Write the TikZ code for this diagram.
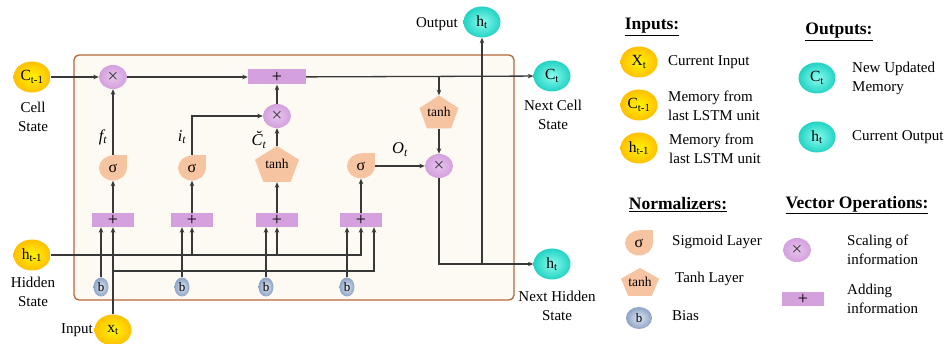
\documentclass[tikz,border=0pt]{standalone}
\usepackage{fontspec}
\setmainfont{Liberation Serif}
\usetikzlibrary{arrows.meta,shapes.geometric,calc}
\definecolor{boxfill}{HTML}{FDFAF3}
\definecolor{boxline}{HTML}{B4683C}
\definecolor{lin}{HTML}{383838}
\definecolor{purp}{HTML}{D4A0DE}
\definecolor{purpin}{HTML}{E6C4EC}
\definecolor{peach}{HTML}{F7C4A2}
\definecolor{bout}{HTML}{8DA3C5}
\definecolor{bin}{HTML}{DDE6F2}
\definecolor{yin}{HTML}{FFF400}
\definecolor{yout}{HTML}{FFC000}
\definecolor{cin}{HTML}{8AFCF0}
\definecolor{cout}{HTML}{22D3C3}
\newcommand\sbt[1]{\textsubscript{#1}}
\begin{document}
\begin{tikzpicture}[x=1pt,y=-1pt,
  arr/.style={draw=lin, line width=1.3pt, -{Stealth[length=5.5pt,width=4.5pt]}},
  yel/.style={ellipse, minimum width=37pt, minimum height=31pt, inner sep=0pt, shading=radial, inner color=yin, outer color=yout, font=\fontsize{15.5}{15.5}\selectfont},
  cya/.style={ellipse, minimum width=37pt, minimum height=31pt, inner sep=0pt, shading=radial, inner color=cin, outer color=cout, font=\fontsize{15.5}{15.5}\selectfont},
  mul/.style={ellipse, minimum width=28pt, minimum height=24pt, inner sep=0pt, shading=radial, inner color=purpin, outer color=purp, text=lin, font=\fontsize{19}{19}\selectfont},
  addbox/.style={rectangle, fill=purp, minimum width=42pt, minimum height=14pt, inner sep=0pt, text=black, font=\fontsize{18}{18}\selectfont},
  sigm/.style={rectangle, minimum width=28pt, minimum height=25pt, inner sep=0pt, font=\fontsize{16}{16}\selectfont,
    path picture={\fill[peach] (path picture bounding box.center) ellipse [x radius=14pt, y radius=12.5pt];
      \fill[peach] (path picture bounding box.center) rectangle (path picture bounding box.north east);}},
  tanhs/.style={rectangle, inner sep=0pt, font=\fontsize{13.5}{13.5}\selectfont,
    path picture={\def\pb{path picture bounding box}
      \fill[peach] (\pb.north) -- ($(\pb.south east)!0.618!(\pb.north east)$) -- ($(\pb.south west)!0.809!(\pb.south east)$)
        -- ($(\pb.south west)!0.191!(\pb.south east)$) -- ($(\pb.south west)!0.618!(\pb.north west)$) -- cycle;}},
  bias/.style={ellipse, minimum width=15pt, minimum height=19pt, inner sep=0pt, shading=radial, inner color=bin, outer color=bout, font=\fontsize{13}{13}\selectfont},
  lbl/.style={font=\fontsize{15}{19}\selectfont, align=center, inner sep=0pt},
  leg/.style={font=\fontsize{15}{19}\selectfont, align=left, anchor=west, inner sep=0pt},
  head/.style={font=\bfseries\fontsize{17.5}{19}\selectfont, inner sep=0pt},
  gl/.style={font=\itshape\fontsize{16.5}{16.5}\selectfont, inner sep=0pt}
]
\useasboundingbox (0,0) rectangle (950,344);
\draw[draw=boxline, fill=boxfill, line width=1.3pt, rounded corners=5pt] (74,55) rectangle (514,300);

% outer nodes
\node[yel] (cprev) at (32,77) {C\sbt{t-1}};
\node[lbl] (cprevl) at (33,117) {Cell\\State};
\node[yel] (hprev) at (32,255) {h\sbt{t-1}};
\node[lbl] (hprevl) at (33,292) {Hidden\\State};
\node[yel] (xin) at (113,330) {x\sbt{t}};
\node[lbl, anchor=east] (xinl) at (93,330) {Input};
\node[cya] (ct) at (552,76) {C\sbt{t}};
\node[lbl] (ctl) at (553,115) {Next Cell\\State};
\node[cya] (hnext) at (552,264) {h\sbt{t}};
\node[lbl] (hnextl) at (557,306) {Next Hidden\\State};
\node[cya] (hout) at (482,22) {h\sbt{t}};
\node[lbl, anchor=east] (houtl) at (458,24) {Output};

% inner nodes
\node[mul] (m1) at (113,77) {×};
\node[addbox, minimum width=58pt, minimum height=15pt] (ptop) at (277,77) {+};
\node[mul] (m2) at (277,116) {×};
\node[tanhs, minimum width=39pt, minimum height=33pt] (th2) at (439,112) {tanh};
\node[mul] (m3) at (439,166) {×};
\node[sigm] (s1) at (113,168) {σ};
\node[sigm] (s2) at (192,168) {σ};
\node[tanhs, minimum width=44pt, minimum height=36pt] (th1) at (277,164) {tanh};
\node[sigm] (s4) at (361,166) {σ};
\node[addbox] (a1) at (113,220) {+};
\node[addbox] (a2) at (192,220) {+};
\node[addbox] (a3) at (277,220) {+};
\node[addbox] (a4) at (361,220) {+};
\node[bias] (b1) at (101,287) {b};
\node[bias] (b2) at (182,287) {b};
\node[bias] (b3) at (266,287) {b};
\node[bias] (b4) at (347,287) {b};

\node[gl] (lf) at (103,137) {f\sbt{t}};
\node[gl] (li) at (182,137) {i\sbt{t}};
\node[gl] (lc) at (259,140) {\u{C}\sbt{t}};

\coordinate (csplit) at (439,77);
\coordinate (hsplit) at (482,264);
\coordinate (xsplit) at (113,271);

% connectors
\draw[arr] (cprev) -- (m1);
\draw[arr] (m1) -- (ptop);
\draw[arr] (ptop) -- (ct);
\draw[arr] (csplit) -- (th2);
\draw[arr] (th2) -- (m3);
\draw[arr] (s4) -- node[gl, above=9pt] (lo) {O\sbt{t}} (m3);
\draw[arr] (m3) |- (hnext);
\draw[arr] (hsplit) -- (hout);
\draw[arr] (s1) -- (m1);
\draw[arr] (s2) |- (m2);
\draw[arr] (th1) -- (m2);
\draw[arr] (m2) -- (ptop);
\draw[arr] (a1) -- (s1);
\draw[arr] (a2) -- (s2);
\draw[arr] (a3) -- (th1);
\draw[arr] (a4) -- (s4);
\draw[arr] (b1) -- (b1 |- a1.south);
\draw[arr] (b2) -- (b2 |- a2.south);
\draw[arr] (b3) -- (b3 |- a3.south);
\draw[arr] (b4) -- (b4 |- a4.south);
\draw[arr] (hprev) -| (a4);
\draw[arr] (a2 |- hprev) -- (a2);
\draw[arr] (a3 |- hprev) -- (a3);
\draw[arr] (xin) -- (a1);
\draw[arr] (xsplit) -| ([xshift=13pt]a4.south);

% legend
\node[head] (hin) at (652,27) {\underline{Inputs:}};
\node[head] (hou) at (839,32) {\underline{Outputs:}};
\node[yel] (xleg) at (639,62) {X\sbt{t}};
\node[leg] (xlegt) at (668,62) {Current Input};
\node[yel] (cleg) at (639,105) {C\sbt{t-1}};
\node[leg] (clegt) at (668,106) {Memory from\\last LSTM unit};
\node[yel] (hleg) at (639,148) {h\sbt{t-1}};
\node[leg] (hlegt) at (669,149) {Memory from\\last LSTM unit};
\node[cya] (ctleg) at (817,78) {C\sbt{t}};
\node[leg] (ctlegt) at (852,78) {New Updated\\Memory};
\node[cya] (htleg) at (817,137) {h\sbt{t}};
\node[leg] (htlegt) at (852,137) {Current Output};

\node[head] (hnorm) at (678,205) {\underline{Normalizers:}};
\node[head] (hvec) at (857,205) {\underline{Vector Operations:}};
\node[sigm] (sleg) at (639,243) {σ};
\node[leg] (slegt) at (672,242) {Sigmoid Layer};
\node[tanhs, minimum width=38pt, minimum height=28pt] (tleg) at (640,282) {tanh};
\node[leg] (tlegt) at (675,279) {Tanh Layer};
\node[bias, minimum width=26pt, minimum height=22pt] (bleg) at (639,318) {b};
\node[leg] (blegt) at (672,316) {Bias};
\node[mul] (mleg) at (797,250) {×};
\node[leg] (mlegt) at (847,250) {Scaling of\\information};
\node[addbox] (pleg) at (803,299) {+};
\node[leg] (plegt) at (847,299) {Adding\\information};
\end{tikzpicture}
\end{document}
